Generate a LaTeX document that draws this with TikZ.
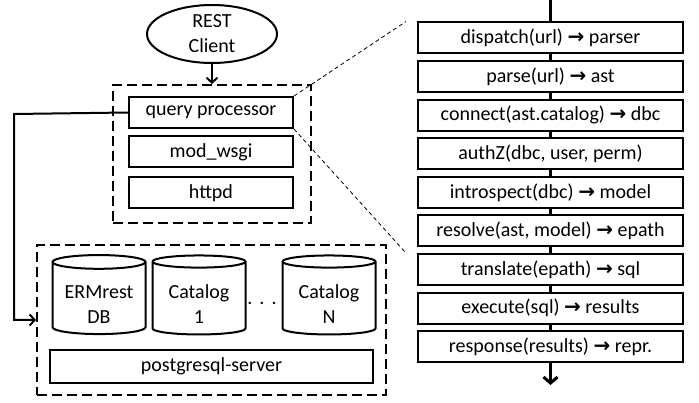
\documentclass[tikz,border=0pt]{standalone}
\usepackage{fontspec}
\setmainfont{Carlito}
\newfontfamily\arrowfont{DejaVu Sans}
\usetikzlibrary{arrows.meta,calc,shapes.geometric}
\newcommand\rarr{{\arrowfont\bfseries →}}
\newcommand\dbtext[2]{\raisebox{0pt}[26pt]{#1}\\#2}
\tikzset{
	box/.style={draw, line width=2pt, minimum height=31pt, inner sep=0pt},
	group/.style={draw, line width=2pt, dash pattern=on 10pt off 5pt, inner sep=0pt},
	dbase/.style={draw, line width=2pt, cylinder, shape border rotate=90, aspect=0.2,
			minimum width=93pt, minimum height=79pt, align=center, inner sep=0pt},
	spine/.style={line width=3pt},
	zoomline/.style={line width=0.8pt, dash pattern=on 4pt off 3pt},
	tip/.style={-{Straight Barb[length=5pt, width=11pt]}}
}

\begin{document}
\begin{tikzpicture}[x=1pt, y=-1pt, font=\fontsize{20}{25}\selectfont]
	\useasboundingbox (0,0) rectangle (699,403);

	% web server
	\node[draw, ellipse, line width=2pt, minimum width=130pt, minimum height=58pt,
		inner sep=0pt, align=center] (client) at (212,34) {REST\\Client};
	\node[group, minimum width=198pt, minimum height=138pt] (web) at (212,154) {};
	\node[box, minimum width=164pt] (qp) at (211,112.5) {query processor};
	\node[box, minimum width=164pt] (wsgi) at (211,152) {mod\_wsgi};
	\node[box, minimum width=164pt] (httpd) at (211,193) {httpd};
	\draw[tip, line width=2pt] (client) to (web);

	% database server
	\node[group, minimum width=349pt, minimum height=150pt] (pg) at (211.5,320) {};
	\node[dbase] (ermdb) at (99,298.5) {\dbtext{ERMrest}{DB}};
	\node[dbase] (cat1) at (199,298.5) {\dbtext{Catalog}{1}};
	\node[dbase] (catn) at (329,298.5) {\dbtext{Catalog}{N}};
	\node (dots) at (262,303) {.\hspace{7pt}.\hspace{7pt}.};
	\node[box, minimum width=323pt, minimum height=33pt] (server) at (211.5,366.5) {postgresql-server};

	\coordinate (bend) at (14,114);
	\draw[tip, line width=2pt] (qp.west) -- (bend) |- (pg.west);

	% request pipeline
	\coordinate (top) at (550.5,0);
	\coordinate (bot) at (550.5,385);
	\foreach \t [count=\i] in {dispatch(url) \rarr{} parser, parse(url) \rarr{} ast,
			connect(ast.catalog) \rarr{} dbc, {authZ(dbc, user, perm)},
			introspect(dbc) \rarr{} model, {resolve(ast, model) \rarr{} epath},
			translate(epath) \rarr{} sql, execute(sql) \rarr{} results,
			response(results) \rarr{} repr.} {
		\node[box, minimum width=265pt] (s\i) at (550.5, {38.6*\i-0.6}) {\t};
	}
	\draw[spine] (top) -- (s1);
	\foreach \i [count=\j from 2] in {1,...,8}
		\draw[spine] (s\i) -- (s\j);
	\draw[spine, -{Straight Barb[length=6pt, width=14pt]}] (s9) -- (bot);

	\draw[zoomline] (qp.north east) -- ($(s1.north west)+(-11,0)$);
	\draw[zoomline] (qp.south east) -- ($(s7.north west)+(-11,0)$);
\end{tikzpicture}
\end{document}
